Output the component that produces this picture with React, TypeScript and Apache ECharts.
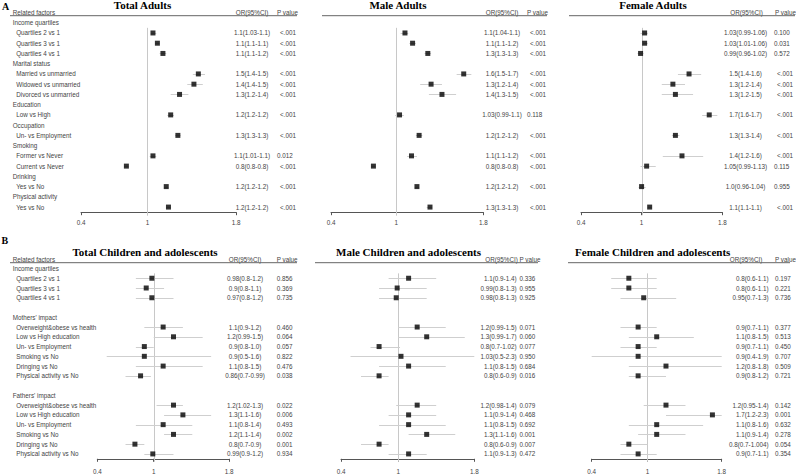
import React, { useEffect, useRef } from "react";
import * as echarts from "echarts";

// ---------------- data ----------------
const adultRowLabels = [
  "Income quartiles", "Quartiles 2 vs 1", "Quartiles 3 vs 1", "Quartiles 4 vs 1",
  "Marital status", "Married vs unmarried", "Widowed vs unmarried", "Divorced vs unmarried",
  "Education", "Low vs High", "Occupation", "Un- vs Employment",
  "Smoking", "Former vs Never", "Current vs Never", "Drinking", "Yes vs No",
  "Physical activity", "Yes vs No",
];
const adultRowIsHeader = [1, 0, 0, 0, 1, 0, 0, 0, 1, 0, 1, 0, 1, 0, 0, 1, 0, 1, 0];

const childRowLabels = [
  "Income quartiles", "Quartiles 2 vs 1", "Quartiles 3 vs 1", "Quartiles 4 vs 1", "",
  "Mothers' impact", "Overweight&obese vs health", "Low vs High education", "Un- vs Employment",
  "Smoking vs No", "Dringing vs No", "Physical activity vs No", "",
  "Fathers' impact", "Overweight&obese vs health", "Low vs High education", "Un- vs Employment",
  "Smoking vs No", "Dringing vs No", "Physical activity vs No",
];
const childRowIsHeader = [1, 0, 0, 0, 0, 1, 0, 0, 0, 0, 0, 0, 0, 1, 0, 0, 0, 0, 0, 0];

const N = null;
// Total adults
const totalAdultsOR = [N, 1.05, 1.09, 1.14, N, 1.46, 1.42, 1.29, N, 1.21, N, 1.275, N, 1.05, 0.81, N, 1.17, N, 1.19];
const totalAdultsLo = [N, 1.03, 1.07, 1.11, N, 1.41, 1.36, 1.21, N, 1.18, N, 1.25, N, 1.02, 0.79, N, 1.15, N, 1.17];
const totalAdultsHi = [N, 1.08, 1.11, 1.17, N, 1.52, 1.5, 1.37, N, 1.24, N, 1.3, N, 1.08, 0.83, N, 1.19, N, 1.21];
const totalAdultsText = ["", "1.1(1.03-1.1)", "1.1(1.1-1.1)", "1.1(1.1-1.2)", "", "1.5(1.4-1.5)", "1.4(1.4-1.5)", "1.3(1.2-1.4)", "", "1.2(1.2-1.2)", "", "1.3(1.3-1.3)", "", "1.1(1.01-1.1)", "0.8(0.8-0.8)", "", "1.2(1.2-1.2)", "", "1.2(1.2-1.2)"];
const totalAdultsP = ["", "<.001", "<.001", "<.001", "", "<.001", "<.001", "<.001", "", "<.001", "", "<.001", "", "0.012", "<.001", "", "<.001", "", "<.001"];

// Male adults
const maleAdultsOR = [N, 1.08, 1.15, 1.29, N, 1.62, 1.32, 1.42, N, 1.03, N, 1.21, N, 1.14, 0.79, N, 1.19, N, 1.31];
const maleAdultsLo = [N, 1.04, 1.12, 1.26, N, 1.555, 1.22, 1.3, N, 0.99, N, 1.18, N, 1.1, 0.77, N, 1.17, N, 1.28];
const maleAdultsHi = [N, 1.11, 1.18, 1.32, N, 1.69, 1.42, 1.55, N, 1.07, N, 1.24, N, 1.19, 0.81, N, 1.21, N, 1.33];
const maleAdultsText = ["", "1.1(1.04-1.1)", "1.1(1.1-1.2)", "1.3(1.3-1.3)", "", "1.6(1.5-1.7)", "1.3(1.2-1.4)", "1.4(1.3-1.5)", "", "1.03(0.99-1.1)", "", "1.2(1.2-1.2)", "", "1.1(1.1-1.2)", "0.8(0.8-0.8)", "", "1.2(1.2-1.2)", "", "1.3(1.3-1.3)"];
const maleAdultsP = ["", "<.001", "<.001", "<.001", "", "<.001", "<.001", "<.001", "", "0.118", "", "<.001", "", "<.001", "<.001", "", "<.001", "", "<.001"];

// Female adults
const femaleAdultsOR = [N, 1.03, 1.03, 0.99, N, 1.47, 1.31, 1.335, N, 1.67, N, 1.335, N, 1.4, 1.05, N, 1.0, N, 1.08];
const femaleAdultsLo = [N, 0.99, 1.01, 0.96, N, 1.36, 1.2, 1.2, N, 1.6, N, 1.3, N, 1.21, 0.99, N, 0.97, N, 1.06];
const femaleAdultsHi = [N, 1.06, 1.06, 1.02, N, 1.59, 1.43, 1.51, N, 1.75, N, 1.375, N, 1.61, 1.14, N, 1.04, N, 1.1];
const femaleAdultsText = ["", "1.03(0.99-1.06)", "1.03(1.01-1.06)", "0.99(0.96-1.02)", "", "1.5(1.4-1.6)", "1.3(1.2-1.4)", "1.3(1.2-1.5)", "", "1.7(1.6-1.7)", "", "1.3(1.3-1.4)", "", "1.4(1.2-1.6)", "1.05(0.99-1.13)", "", "1.0(0.96-1.04)", "", "1.1(1.1-1.1)"];
const femaleAdultsP = ["", "0.100", "0.031", "0.572", "", "<.001", "<.001", "<.001", "", "<.001", "", "<.001", "", "<.001", "0.115", "", "0.955", "", "<.001"];

// Total children and adolescents
const totalChildOR = [N, 0.98, 0.92, 0.98, N, N, 1.1, 1.21, 0.9, 0.9, 1.1, 0.86, N, N, 1.21, 1.31, 1.1, 1.21, 0.8, 0.99];
const totalChildLo = [N, 0.81, 0.81, 0.81, N, N, 0.9, 1.0, 0.81, 0.5, 0.81, 0.7, N, N, 1.03, 1.11, 0.81, 1.11, 0.7, 0.9];
const totalChildHi = [N, 1.21, 1.11, 1.21, N, N, 1.31, 1.52, 1.0, 1.61, 1.52, 0.97, N, N, 1.31, 1.61, 1.41, 1.41, 0.9, 1.21];
const totalChildText = ["", "0.98(0.8-1.2)", "0.9(0.8-1.1)", "0.97(0.8-1.2)", "", "", "1.1(0.9-1.2)", "1.2(0.99-1.5)", "0.9(0.8-1.0)", "0.9(0.5-1.6)", "1.1(0.8-1.5)", "0.86(0.7-0.99)", "", "", "1.2(1.02-1.3)", "1.3(1.1-1.6)", "1.1(0.8-1.4)", "1.2(1.1-1.4)", "0.8(0.7-0.9)", "0.99(0.9-1.2)"];
const totalChildP = ["", "0.856", "0.369", "0.735", "", "", "0.460", "0.064", "0.057", "0.822", "0.476", "0.038", "", "", "0.022", "0.006", "0.493", "0.002", "0.001", "0.934"];

// Male children and adolescents
const maleChildOR = [N, 1.11, 0.99, 0.98, N, N, 1.2, 1.3, 0.8, 1.03, 1.11, 0.8, N, N, 1.2, 1.11, 1.11, 1.3, 0.8, 1.11];
const maleChildLo = [N, 0.9, 0.8, 0.8, N, N, 1.0, 1.0, 0.71, 0.5, 0.8, 0.61, N, N, 0.98, 0.9, 0.8, 1.11, 0.61, 0.9];
const maleChildHi = [N, 1.4, 1.3, 1.3, N, N, 1.5, 1.7, 1.02, 2.3, 1.5, 0.9, N, N, 1.4, 1.4, 1.5, 1.6, 0.9, 1.3];
const maleChildText = ["", "1.1(0.9-1.4)", "0.99(0.8-1.3)", "0.98(0.8-1.3)", "", "", "1.2(0.99-1.5)", "1.3(0.99-1.7)", "0.8(0.7-1.02)", "1.03(0.5-2.3)", "1.1(0.8-1.5)", "0.8(0.6-0.9)", "", "", "1.2(0.98-1.4)", "1.1(0.9-1.4)", "1.1(0.8-1.5)", "1.3(1.1-1.6)", "0.8(0.6-0.9)", "1.1(0.9-1.3)"];
const maleChildP = ["", "0.336", "0.955", "0.925", "", "", "0.071", "0.060", "0.077", "0.950", "0.684", "0.016", "", "", "0.079", "0.468", "0.692", "0.001", "0.007", "0.472"];

// Female children and adolescents
const femaleChildOR = [N, 0.8, 0.8, 0.96, N, N, 0.9, 1.1, 0.9, 0.9, 1.2, 0.9, N, N, 1.2, 1.7, 1.1, 1.1, 0.8, 0.9];
const femaleChildLo = [N, 0.61, 0.61, 0.71, N, N, 0.71, 0.8, 0.71, 0.4, 0.8, 0.8, N, N, 0.96, 1.2, 0.8, 0.9, 0.71, 0.71];
const femaleChildHi = [N, 1.1, 1.1, 1.31, N, N, 1.1, 1.5, 1.1, 1.9, 1.8, 1.2, N, N, 1.41, 2.3, 1.6, 1.41, 1.0, 1.1];
const femaleChildText = ["", "0.8(0.6-1.1)", "0.8(0.6-1.1)", "0.95(0.7-1.3)", "", "", "0.9(0.7-1.1)", "1.1(0.8-1.5)", "0.9(0.7-1.1)", "0.9(0.4-1.9)", "1.2(0.8-1.8)", "0.9(0.8-1.2)", "", "", "1.2(0.95-1.4)", "1.7(1.2-2.3)", "1.1(0.8-1.6)", "1.1(0.9-1.4)", "0.8(0.7-1.004)", "0.9(0.7-1.1)"];
const femaleChildP = ["", "0.197", "0.221", "0.736", "", "", "0.377", "0.513", "0.450", "0.707", "0.509", "0.721", "", "", "0.142", "0.001", "0.632", "0.278", "0.054", "0.354"];

const axisTicks = [0.4, 1, 1.8];
const axisMin = 0.4;
const axisMax = 1.8;

const panelTitles = [
  "Total Adults", "Male Adults", "Female Adults",
  "Total Children and adolescents", "Male Children and adolescents", "Female Children and adolescents",
];
const sectionLabels = ["A", "B"];
const headerTexts = { rows: "Related factors", or: "OR(95%CI)", p: "P value" };

// ---------------- panels (data bindings) ----------------
const panels = [
  { rows: adultRowLabels, hdr: adultRowIsHeader, or: totalAdultsOR, lo: totalAdultsLo, hi: totalAdultsHi, txt: totalAdultsText, p: totalAdultsP, showRows: true },
  { rows: adultRowLabels, hdr: adultRowIsHeader, or: maleAdultsOR, lo: maleAdultsLo, hi: maleAdultsHi, txt: maleAdultsText, p: maleAdultsP, showRows: false },
  { rows: adultRowLabels, hdr: adultRowIsHeader, or: femaleAdultsOR, lo: femaleAdultsLo, hi: femaleAdultsHi, txt: femaleAdultsText, p: femaleAdultsP, showRows: false },
  { rows: childRowLabels, hdr: childRowIsHeader, or: totalChildOR, lo: totalChildLo, hi: totalChildHi, txt: totalChildText, p: totalChildP, showRows: true },
  { rows: childRowLabels, hdr: childRowIsHeader, or: maleChildOR, lo: maleChildLo, hi: maleChildHi, txt: maleChildText, p: maleChildP, showRows: false },
  { rows: childRowLabels, hdr: childRowIsHeader, or: femaleChildOR, lo: femaleChildLo, hi: femaleChildHi, txt: femaleChildText, p: femaleChildP, showRows: false },
];

// ---------------- layout ----------------
const TOP = { top: 17.6, height: 194.6, titleY: 5, headerY: 12, lineY: 15.7, labelMargin: 7.5 };
const BOT = { top: 263.6, height: 195.2, titleY: 251.7, headerY: 259.3, lineY: 262.7, labelMargin: 10 };
const layouts = [
  { ...TOP, left: 81, right: 236, rowX: 12.7, orX: 252, orAlign: "center", orHX: 252, pX: 277, titleX: 142.5, line: [10, 297] },
  { ...TOP, left: 331, right: 483.3, rowX: 0, orX: 502, orAlign: "center", orHX: 502, pX: 527, titleX: 398, line: [322, 547] },
  { ...TOP, left: 581, right: 723.3, rowX: 0, orX: 746.5, orAlign: "center", orHX: 746.5, pX: 775, titleX: 653, line: [569, 795] },
  { ...BOT, left: 97.3, right: 229, rowX: 12.7, orX: 245, orAlign: "center", orHX: 245, pX: 276.7, titleX: 145, line: [10, 297] },
  { ...BOT, left: 341, right: 474.3, rowX: 0, orX: 516.5, orAlign: "right", orHX: 501.5, pX: 519.5, titleX: 408.5, line: [315, 538] },
  { ...BOT, left: 591.7, right: 721.7, rowX: 0, orX: 768.5, orAlign: "right", orHX: 746, pX: 775, titleX: 652.7, line: [568, 790] },
];

const SANS = "'Liberation Sans', Arial, Helvetica, sans-serif";
const SERIF = "'Liberation Serif', 'Times New Roman', serif";
const TXT = "#444";
const FS = 6.3;

function textEl(text: string, x: number, y: number, opts: any = {}) {
  const align = opts.align || "left";
  return {
    type: "text",
    x,
    y,
    silent: true,
    style: {
      text,
      fill: opts.fill || TXT,
      fontSize: opts.fontSize || FS,
      fontFamily: opts.fontFamily || SANS,
      fontWeight: opts.fontWeight || "normal",
      align,
      textAlign: align,
      verticalAlign: "middle",
      textVerticalAlign: "middle",
    },
  };
}

function buildOption() {
  const grid: any[] = [];
  const xAxis: any[] = [];
  const yAxis: any[] = [];
  const series: any[] = [];
  const graphic: any[] = [];

  panels.forEach((p, i) => {
    const L = layouts[i];
    const keys = p.rows.map((_, k) => "r" + k);
    grid.push({ left: L.left, top: L.top, width: L.right - L.left, height: L.height });
    xAxis.push({
      gridIndex: i,
      type: "value",
      min: axisMin,
      max: axisMax,
      axisLine: { show: true, lineStyle: { color: "#555", width: 1 } },
      axisTick: { show: true, customValues: axisTicks, length: 3, lineStyle: { color: "#555", width: 1 } },
      axisLabel: { customValues: axisTicks, fontSize: FS, color: "#444", fontFamily: SANS, margin: L.labelMargin },
      splitLine: { show: false },
    });
    const base = {
      gridIndex: i,
      type: "category",
      data: keys,
      inverse: true,
      axisLine: { show: false },
      axisTick: { show: false },
      splitLine: { show: false },
    };
    yAxis.push({
      ...base,
      position: "left",
      axisLabel: {
        show: p.showRows,
        interval: 0,
        align: "left",
        margin: L.left - L.rowX,
        fontSize: FS,
        fontFamily: SANS,
        color: TXT,
        formatter: (_v: string, k: number) => {
          const t = p.rows[k];
          if (!t) return "";
          return p.hdr[k] ? `{h|${t}}` : `{i|${t}}`;
        },
        rich: {
          h: { fontSize: FS, fontFamily: SANS, color: TXT },
          i: { fontSize: FS, fontFamily: SANS, color: TXT, padding: [0, 0, 0, 3.5] },
        },
      },
    });
    yAxis.push({
      ...base,
      position: "right",
      offset: 0,
      axisLabel: {
        interval: 0,
        align: L.orAlign,
        margin: L.orX - L.right,
        fontSize: FS,
        fontFamily: SANS,
        color: TXT,
        formatter: (_v: string, k: number) => p.txt[k] || "",
      },
    });
    yAxis.push({
      ...base,
      position: "right",
      offset: 0,
      axisLabel: {
        interval: 0,
        align: "left",
        margin: L.pX - L.right,
        fontSize: FS,
        fontFamily: SANS,
        color: TXT,
        formatter: (_v: string, k: number) => {
          const t = p.p[k];
          if (!t) return "";
          return t.charAt(0) === "<" ? `{s|${t}}` : `{n|${t}}`;
        },
        rich: {
          n: { fontSize: FS, fontFamily: SANS, color: TXT },
          s: { fontSize: FS, fontFamily: SANS, color: TXT, padding: [0, 0, 0, 3] },
        },
      },
    });

    const ciData: any[] = [];
    const ptData: any[] = [];
    p.or.forEach((v, k) => {
      if (v == null) return;
      ciData.push([p.lo[k], p.hi[k], k]);
      ptData.push([v, k]);
    });

    // reference line at OR = 1
    series.push({
      type: "custom",
      xAxisIndex: i,
      yAxisIndex: 3 * i,
      silent: true,
      z: 1,
      encode: { x: 0, y: 1 },
      data: [[1, 0]],
      renderItem: (params: any, api: any) => {
        const c = api.coord([api.value(0), api.value(1)]);
        const band = api.size([0, 1])[1];
        const cs = params.coordSys;
        const x = Math.round(c[0]) + 0.5;
        return {
          type: "line",
          shape: { x1: x, y1: c[1] + band / 2, x2: x, y2: cs.y + cs.height + 3 },
          style: { stroke: "#c8c8c8", lineWidth: 1 },
        };
      },
    });
    // confidence intervals
    series.push({
      type: "custom",
      xAxisIndex: i,
      yAxisIndex: 3 * i,
      silent: true,
      z: 2,
      encode: { x: [0, 1], y: 2 },
      data: ciData,
      renderItem: (_params: any, api: any) => {
        const lo = Math.max(api.value(0), axisMin);
        const hi = Math.min(api.value(1), axisMax);
        const a = api.coord([lo, api.value(2)]);
        const b = api.coord([hi, api.value(2)]);
        const y = Math.round(a[1]) + 0.5;
        return {
          type: "line",
          shape: { x1: a[0], y1: y, x2: b[0], y2: y },
          style: { stroke: "#cfcfcf", lineWidth: 1 },
        };
      },
    });
    // point estimates
    series.push({
      type: "scatter",
      xAxisIndex: i,
      yAxisIndex: 3 * i,
      silent: true,
      z: 3,
      symbol: "rect",
      symbolSize: 5,
      itemStyle: { color: "#000" },
      data: ptData,
    });

    // titles & headers
    graphic.push(textEl(panelTitles[i], L.titleX, L.titleY, { align: "center", fontSize: 11, fontFamily: SERIF, fontWeight: "bold", fill: "#000" }));
    if (p.showRows) graphic.push(textEl(headerTexts.rows, L.rowX, L.headerY));
    graphic.push(textEl(headerTexts.or, L.orHX, L.headerY, { align: "center" }));
    graphic.push(textEl(headerTexts.p, L.pX, L.headerY));
    graphic.push({
      type: "line",
      silent: true,
      shape: { x1: L.line[0], y1: L.lineY, x2: L.line[1], y2: L.lineY },
      style: { stroke: "#666", lineWidth: 1 },
    });
  });

  graphic.push(textEl(sectionLabels[0], 2, 6.5, { fontSize: 10, fontFamily: SERIF, fontWeight: "bold", fill: "#000" }));
  graphic.push(textEl(sectionLabels[1], 1.5, 240, { fontSize: 10, fontFamily: SERIF, fontWeight: "bold", fill: "#000" }));

  return {
    animation: false,
    backgroundColor: "#fff",
    grid,
    xAxis,
    yAxis,
    series,
    graphic: { elements: graphic },
  };
}

export default function App() {
  const ref = useRef<HTMLDivElement>(null);
  useEffect(() => {
    if (!ref.current) return;
    const chart = echarts.init(ref.current, undefined, { renderer: "svg" });
    chart.setOption(buildOption() as any);
    return () => chart.dispose();
  }, []);
  return (
    <div
      ref={ref}
      style={{ position: "fixed", left: 0, top: 0, width: 796, height: 475, background: "#fff" }}
    />
  );
}
